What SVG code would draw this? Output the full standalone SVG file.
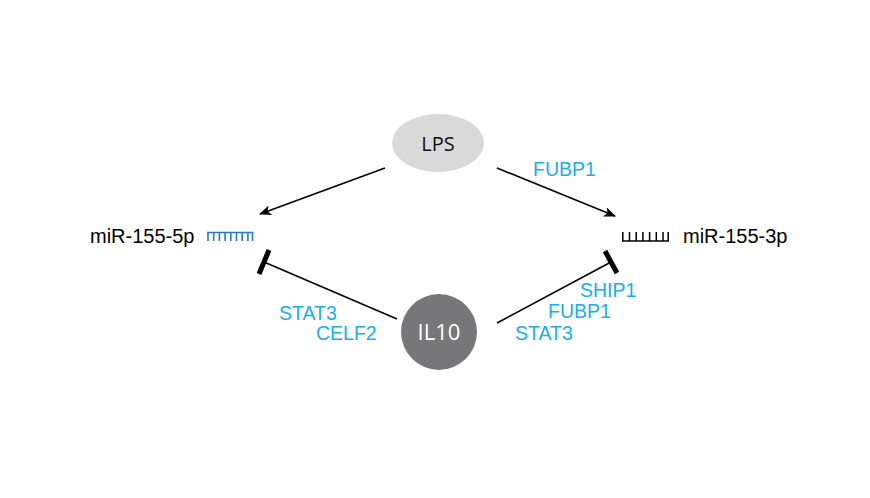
<svg xmlns="http://www.w3.org/2000/svg" width="870" height="498" viewBox="0 0 870 498">
<style>
.lbl{font-family:"Liberation Sans",Arial,sans-serif;font-size:20px;fill:#000}
.blue{font-family:"Liberation Sans",Arial,sans-serif;font-size:19.5px;fill:#1aaeea}
.node{font-family:"Open Sans","Liberation Sans",sans-serif;text-anchor:middle}
.edge{stroke:#000;stroke-width:1.6;fill:none}
.bar{stroke:#000;stroke-width:5;fill:none}
</style>
<defs>
<marker id="arr" viewBox="0 0 12 10" refX="11" refY="5" markerWidth="12" markerHeight="10" markerUnits="userSpaceOnUse" orient="auto">
<path d="M0,0 L12,5 L0,10 L3,5 Z" fill="#000"/>
</marker>
</defs>
<rect width="870" height="498" fill="#fff"/>
<g id="LPS">
<ellipse cx="438" cy="143" rx="46" ry="29" fill="#d9d9da"/>
<text class="node" x="438" y="151" fill="#111" font-size="20">LPS</text>
</g>
<g id="IL10">
<circle cx="439" cy="332" r="38" fill="#77777a"/>
<text class="node" x="439" y="340" fill="#fff" font-size="22">IL10</text>
</g>
<g id="miR-155-5p">
<text class="lbl" x="90" y="243">miR-155-5p</text>
<path d="M207,232.5 H253 M208,232 V241 M213.7,232 V241 M219.4,232 V241 M225.1,232 V241 M230.8,232 V241 M236.5,232 V241 M242.2,232 V241 M247.9,232 V241 M252.5,232 V241" stroke="#2a7bc4" stroke-width="1.6" fill="none"/>
</g>
<g id="miR-155-3p">
<text class="lbl" x="683" y="243">miR-155-3p</text>
<path d="M622,241 H669 M622.8,232 V241.5 M629.5,232 V241.5 M636.2,232 V241.5 M642.9,232 V241.5 M649.6,232 V241.5 M656.3,232 V241.5 M663,232 V241.5 M668.2,232 V241.5" stroke="#000" stroke-width="1.5" fill="none"/>
</g>
<g id="connectors">
<line class="edge" x1="385" y1="168" x2="260" y2="214" marker-end="url(#arr)"/>
<line class="edge" x1="497" y1="168" x2="615" y2="216" marker-end="url(#arr)"/>
<line class="edge" x1="397" y1="319" x2="264" y2="262"/>
<line class="bar" x1="259" y1="274" x2="269" y2="250"/>
<line class="edge" x1="497" y1="323" x2="611" y2="262"/>
<line class="bar" x1="605" y1="251" x2="617" y2="273"/>
</g>
<g id="labels">
<text class="blue" x="533" y="176">FUBP1</text>
<text class="blue" x="279" y="320">STAT3</text>
<text class="blue" x="316" y="340">CELF2</text>
<text class="blue" x="580" y="297">SHIP1</text>
<text class="blue" x="548" y="318">FUBP1</text>
<text class="blue" x="515" y="340">STAT3</text>
</g>
</svg>
